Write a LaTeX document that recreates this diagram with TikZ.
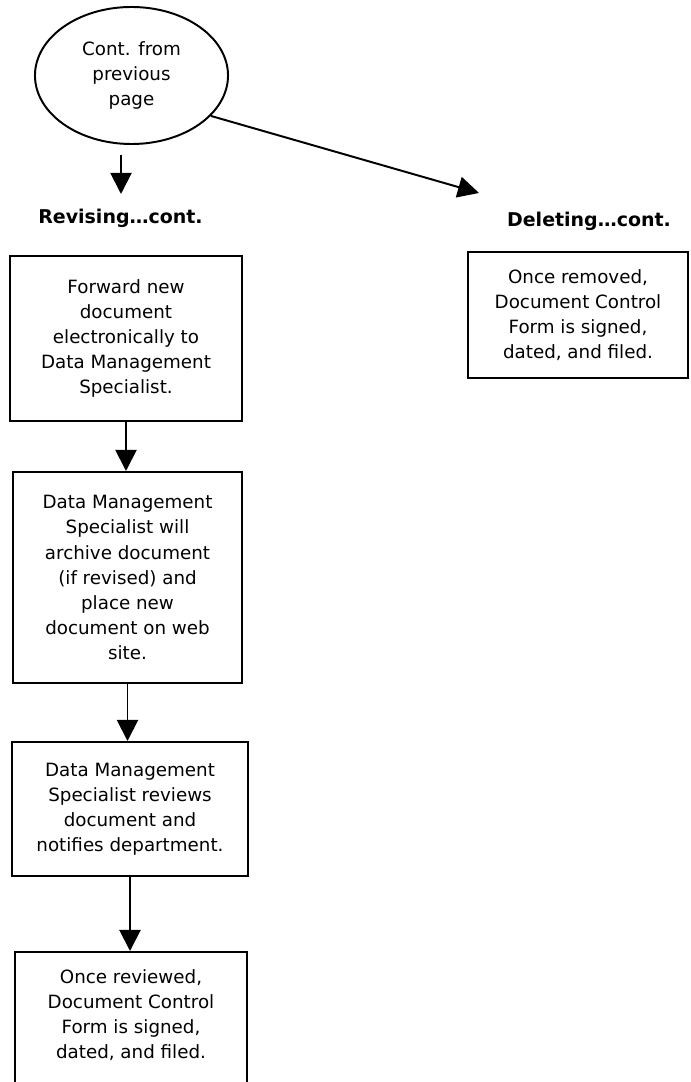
\documentclass[tikz,border=0pt]{standalone}
\usepackage{fontspec}
\setmainfont{DejaVu Sans}
\usetikzlibrary{arrows.meta,shapes.geometric}

\tikzset{
    flowline/.style={line width=1.4pt, -{Triangle[length=15pt,width=15pt]}},
    stepbox/.style={draw, line width=1.4pt, align=center, inner sep=0pt,
        font=\fontsize{13}{17.8}\selectfont},
    startoval/.style={draw, ellipse, line width=1.4pt, align=center, inner sep=0pt,
        minimum width=4.825cm, minimum height=3.425cm,
        font=\fontsize{13}{17.8}\selectfont},
    headtext/.style={font=\fontsize{13.5}{16}\selectfont\bfseries}
}

\begin{document}
\begin{tikzpicture}[x=0.025cm, y=-0.025cm]
    \useasboundingbox (0,0) rectangle (690,1082);
    \clip (0,0) rectangle (690,1082);

    % draw start oval
    \node[startoval] (cont) at (131.5,75.5) {Cont. from\\previous\\page};

    % draw headings
    \node[headtext] (revhead) at (120.5,218) {Revising…cont.};
    \node[headtext] (delhead) at (589,221) {Deleting…cont.};

    % draw revising steps
    \node[stepbox, minimum width=5.8cm, minimum height=4.125cm] (fwd) at (126,338.5)
        {Forward new\\document\\electronically to\\Data Management\\Specialist.};
    \node[stepbox, minimum width=5.725cm, minimum height=5.275cm] (archive) at (127.5,577.5)
        {Data Management\\Specialist will\\archive document\\(if revised) and\\place new\\document on web\\site.};
    \node[stepbox, minimum width=5.9cm, minimum height=3.35cm] (review) at (130,809)
        {Data Management\\Specialist reviews\\document and\\notifies department.};
    \node[stepbox, minimum width=5.8cm, minimum height=3.75cm] (signed) at (131,1027)
        {Once reviewed,\\Document Control\\Form is signed,\\dated, and filed.\\\mbox{}};

    % draw deleting step
    \node[stepbox, minimum width=5.5cm, minimum height=3.15cm] (removed) at (578,315)
        {Once removed,\\Document Control\\Form is signed,\\dated, and filed.};

    % draw arrows from the oval
    \coordinate (revtop) at (121,155);
    \coordinate (revtip) at (121,194);
    \coordinate (deltip) at (479,193);
    \draw[flowline] (revtop) -- (revtip);
    \draw[flowline] (cont.-27) -- (deltip);

    % draw arrows between steps
    \foreach \a/\b in {fwd/archive, archive/review, review/signed}
        \draw[flowline] (\a.south) -- (\a.south |- \b.north);

\end{tikzpicture}
\end{document}
